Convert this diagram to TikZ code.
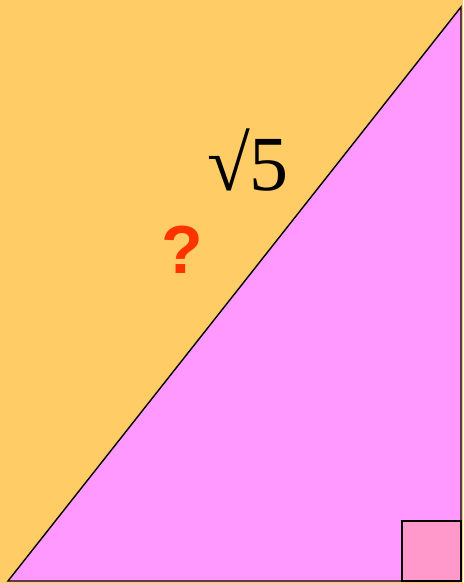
\documentclass[tikz,border=0pt]{standalone}
\usepackage{amsmath,amssymb}
\usepackage{fontspec}
\newfontfamily\qfont{Liberation Sans}
\newfontfamily\rootfont{Liberation Serif}
\usepackage{tikz}
\usetikzlibrary{positioning,calc}
\definecolor{bgorange}{RGB}{255,204,102}
\definecolor{trimagenta}{RGB}{255,153,255}
\definecolor{anglepink}{RGB}{255,153,204}
\definecolor{qred}{RGB}{255,51,0}

\begin{document}
\begin{tikzpicture}[x=1pt,y=-1pt,every node/.style={inner sep=0pt}]
\fill[bgorange] (0,0) rectangle (463,583);
\useasboundingbox (0,0) rectangle (463,583);
\coordinate (A) at (8,581);
\coordinate (B) at (461,581);
\coordinate (C) at (461,7);
\fill[trimagenta] (A)--(B)--(C)--cycle;
\draw[fill=anglepink,line width=1.6pt] (402,581) rectangle (461,521);
\draw[line width=1.4pt,line join=miter] (A)--(B)--(C)--cycle;
\node (hyp) at (248,160) {\fontsize{78}{84}\selectfont\rootfont √5};
\node[text=qred] (q) at (182,250) {\fontsize{68}{74}\selectfont\qfont\bfseries ?};
\end{tikzpicture}
\end{document}
